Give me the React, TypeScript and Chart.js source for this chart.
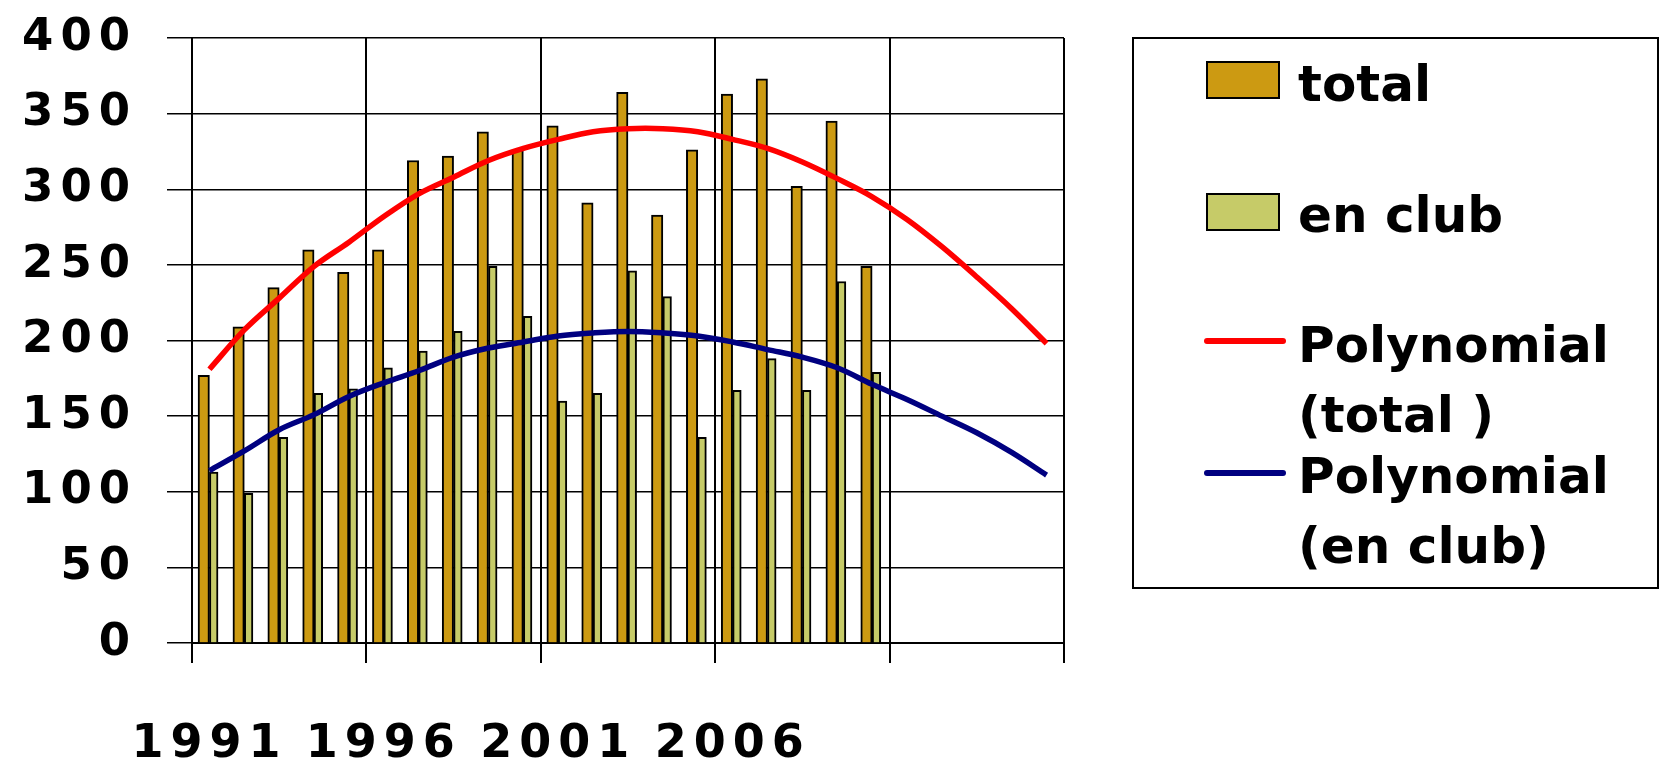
import React, { useEffect, useRef } from 'react';
import { Chart, registerables } from 'chart.js';

Chart.register(...registerables);

const years = ['1991', '1992', '1993', '1994', '1995', '1996', '1997', '1998', '1999', '2000',
  '2001', '2002', '2003', '2004', '2005', '2006', '2007', '2008', '2009', '2010'];
const forecastSlots = ['', '', '', '', ''];
const totalValues = [177, 209, 235, 260, 245, 260, 319, 322, 338, 326, 342, 291, 364, 283, 326, 363, 373, 302, 345, 249];
const clubValues = [113, 99, 136, 165, 168, 182, 193, 206, 249, 216, 160, 165, 246, 229, 136, 167, 188, 167, 239, 179];
const totalTrend = [181, 207, 228, 249, 265, 282, 297, 308, 319, 327, 333, 338, 340, 340, 338, 333, 327, 318, 307, 295, 280, 262, 242, 221, 198];
const clubTrend = [114, 127, 141, 151, 163, 172, 180, 189, 195, 199, 203, 205, 206, 205, 203, 199, 194, 189, 182, 171, 161, 150, 139, 126, 111];

const FONT = 'DejaVu Sans';

const labelSpacing = {
  id: 'labelSpacing',
  beforeDraw(chart: any) {
    (chart.ctx as any).letterSpacing = '7px';
  },
  beforeDatasetsDraw(chart: any) {
    (chart.ctx as any).letterSpacing = '0px';
  },
};

const boxLegend = {
  id: 'boxLegend',
  afterDraw(chart: any) {
    const ctx = chart.ctx;
    const ds = chart.data.datasets;
    ctx.save();
    (ctx as any).letterSpacing = '0px';
    ctx.lineWidth = 2;
    ctx.strokeStyle = '#000';
    ctx.strokeRect(1133, 38, 525, 550);
    ctx.font = `bold 50px "${FONT}"`;
    ctx.fillStyle = '#000';
    ctx.textBaseline = 'alphabetic';
    ctx.textAlign = 'left';
    const items = [
      { d: ds[2], y: 62, base: 101 },
      { d: ds[3], y: 194, base: 232 },
      { d: ds[0], y: 341, base: 362 },
      { d: ds[1], y: 473, base: 493 },
    ];
    items.forEach((it) => {
      const d = it.d;
      if (d.type === 'bar') {
        ctx.fillStyle = d.backgroundColor;
        ctx.fillRect(1207, it.y, 72, 36);
        ctx.lineWidth = 2;
        ctx.strokeStyle = '#000';
        ctx.strokeRect(1207, it.y, 72, 36);
      } else {
        ctx.beginPath();
        ctx.lineCap = 'round';
        ctx.lineWidth = 6;
        ctx.strokeStyle = d.borderColor;
        ctx.moveTo(1207, it.y);
        ctx.lineTo(1283, it.y);
        ctx.stroke();
      }
      const label: string = d.label;
      const k = label.indexOf(' (');
      const lines = k > 0 ? [label.slice(0, k), label.slice(k + 1)] : [label];
      ctx.fillStyle = '#000';
      lines.forEach((ln, i) => ctx.fillText(ln, 1298, it.base + i * 70));
    });
    ctx.restore();
  },
};

export default function App() {
  const ref = useRef<HTMLCanvasElement | null>(null);
  useEffect(() => {
    if (!ref.current) return;
    const labels = [...years, ...forecastSlots];
    const everyFifth = (c: any) => (c.type !== 'tick' || c.index % 5 === 0 ? '#000' : 'rgba(0,0,0,0)');
    const chart = new Chart(ref.current, {
      type: 'bar',
      data: {
        labels,
        datasets: [
          {
            type: 'line',
            label: 'Polynomial (total )',
            data: totalTrend,
            borderColor: '#FF0000',
            borderWidth: 5.5,
            pointRadius: 0,
            tension: 0.35,
            fill: false,
            order: 0,
          } as any,
          {
            type: 'line',
            label: 'Polynomial (en club)',
            data: clubTrend,
            borderColor: '#000080',
            borderWidth: 5.5,
            pointRadius: 0,
            tension: 0.35,
            fill: false,
            order: 0,
          } as any,
          {
            type: 'bar',
            label: 'total',
            data: totalValues,
            backgroundColor: '#CC9A12',
            borderColor: '#000',
            borderWidth: 2,
            barThickness: 11.4,
            order: 1,
          } as any,
          {
            type: 'bar',
            label: 'en club',
            data: clubValues,
            backgroundColor: '#C6CB68',
            borderColor: '#000',
            borderWidth: 2,
            barThickness: 8.6,
            order: 2,
          } as any,
        ],
      },
      options: {
        animation: false,
        responsive: false,
        devicePixelRatio: 1,
        layout: { padding: { top: 38, right: 596, bottom: 0, left: 0 } },
        plugins: { legend: { display: false }, tooltip: { enabled: false } },
        scales: {
          x: {
            type: 'category',
            offset: true,
            afterFit: (s: any) => { s.height = 120; s.paddingLeft = 0; s.paddingRight = 0; },
            grid: {
              offset: true,
              color: everyFifth,
              tickColor: everyFifth,
              lineWidth: 2,
              tickLength: 20,
            },
            border: { display: true, color: '#000', width: 2 },
            ticks: {
              autoSkip: false,
              maxRotation: 0,
              minRotation: 0,
              padding: 54,
              color: '#000',
              font: { family: FONT, size: 46, weight: 'bold' },
              callback: function (this: any, value: any, index: number) {
                return index % 5 === 0 ? this.getLabelForValue(value) : '';
              },
            },
          },
          y: {
            min: 0,
            max: 400,
            afterFit: (s: any) => { s.width = 192; s.paddingTop = 0; s.paddingBottom = 0; },
            grid: { color: '#000', lineWidth: 1.5, tickLength: 25 },
            border: { display: true, color: '#000', width: 2 },
            ticks: {
              stepSize: 50,
              padding: 30,
              color: '#000',
              font: { family: FONT, size: 45, weight: 'bold' },
            },
          },
        },
      },
      plugins: [labelSpacing, boxLegend],
    } as any);
    return () => chart.destroy();
  }, []);
  return (
    <div style={{ position: 'absolute', left: 0, top: 0, width: 1660, height: 763, background: '#fff' }}>
      <canvas ref={ref} width={1660} height={763} style={{ display: 'block', width: 1660, height: 763 }} />
    </div>
  );
}
